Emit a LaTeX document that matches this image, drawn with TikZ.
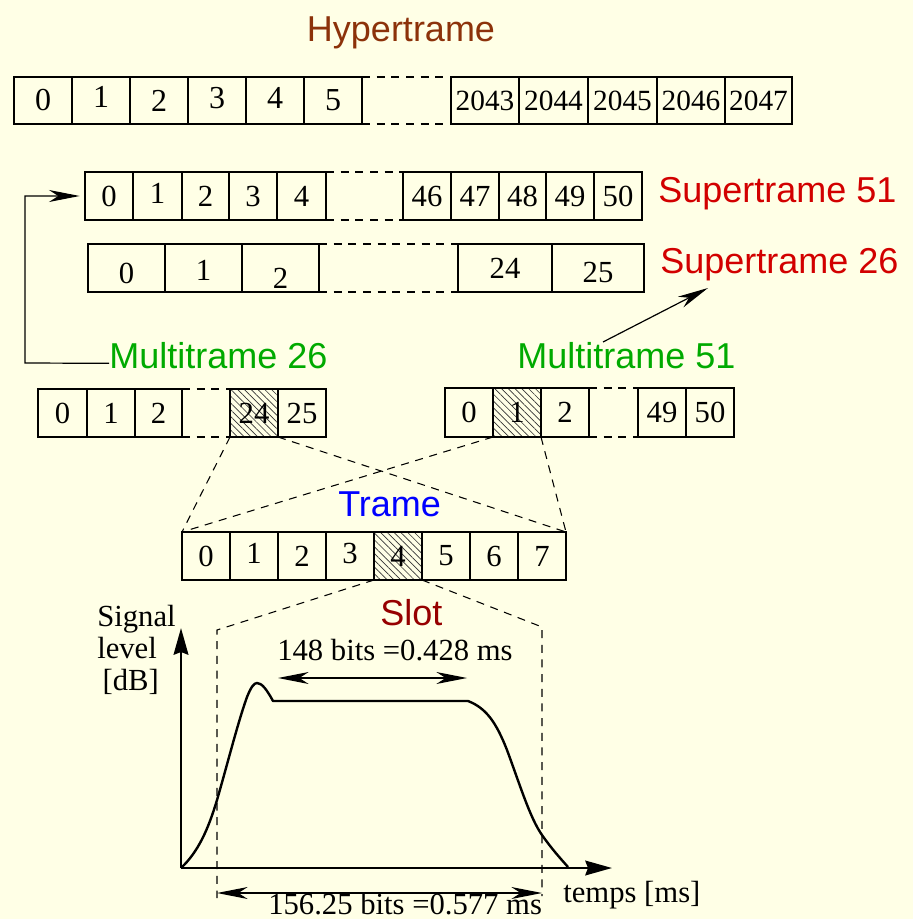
\documentclass[tikz,border=0pt]{standalone}
\usepackage{fontspec}
\setmainfont{Liberation Serif}
\newfontfamily\sfont{Liberation Sans}
\usetikzlibrary{arrows.meta,patterns.meta}
\definecolor{bgc}{RGB}{255,255,230}
\definecolor{hyperc}{RGB}{140,50,10}
\definecolor{superc}{RGB}{210,0,0}
\definecolor{multic}{RGB}{0,170,0}
\definecolor{tramec}{RGB}{0,0,255}
\definecolor{slotc}{RGB}{150,0,0}
\newcommand\fcell[7][]{\node[cellbox,#1,minimum width={(#4-#3)*0.75pt},minimum height={(#6-#5)*0.75pt}] (#2) at ({(#3+#4)/2},{(#5+#6)/2}) {#7};}
\newcommand\lowr[2]{\raisebox{-#1}[\height][0pt]{#2}}
\tikzset{
  cellbox/.style={draw, line width=0.9pt, inner sep=0pt, outer sep=0pt, font=\fontsize{23}{23}\selectfont},
  hatch/.style={pattern={Lines[angle=-45,distance=3.6pt,line width=0.5pt]}, pattern color=black!80},
  gapline/.style={line width=0.8pt, dash pattern=on 6pt off 5pt},
  ttl/.style={font=\sfont\fontsize{27}{27}\selectfont, inner sep=0pt, anchor=base west},
  lbl/.style={font=\fontsize{23}{24}\selectfont, inner sep=0pt, anchor=base west},
  arr/.style={line width=0.9pt, -{Stealth[length=23pt,width=9pt,inset=7pt]}},
  dimarr/.style={line width=0.9pt, {Stealth[length=23pt,width=9pt,inset=7pt]}-{Stealth[length=23pt,width=9pt,inset=7pt]}},
  axisarr/.style={line width=2pt, -{Stealth[length=20pt,width=11pt,inset=2pt]}},
  curve/.style={line width=1.8pt, line join=round}
}
\begin{document}
\begin{tikzpicture}[x=0.75pt,y=-0.75pt]
\fill[bgc] (0,0) rectangle (913,919);
\useasboundingbox (0,0) rectangle (913,919);

% Hypertrame
\node[ttl, anchor=base, text=hyperc] (hyp) at (401,42) {Hypertrame};
\fcell[font=\fontsize{24}{24}\selectfont]{h0}{14}{72}{77}{124}{0}
\fcell[font=\fontsize{24}{24}\selectfont]{h1}{72}{130}{77}{124}{\lowr{-3pt}{1}}
\fcell[font=\fontsize{24}{24}\selectfont]{h2}{130}{188}{77}{124}{2}
\fcell[font=\fontsize{24}{24}\selectfont]{h3}{188}{246}{77}{124}{\lowr{-2pt}{3}}
\fcell[font=\fontsize{24}{24}\selectfont]{h4}{246}{304}{77}{124}{\lowr{-2pt}{4}}
\fcell[font=\fontsize{24}{24}\selectfont]{h5}{304}{362}{77}{124}{5}
\fcell[font=\fontsize{22}{22}\selectfont]{h2043}{451}{519}{77}{124}{2043}
\fcell[font=\fontsize{22}{22}\selectfont]{h2044}{519}{588}{77}{124}{2044}
\fcell[font=\fontsize{22}{22}\selectfont]{h2045}{588}{657}{77}{124}{2045}
\fcell[font=\fontsize{22}{22}\selectfont]{h2046}{657}{725}{77}{124}{2046}
\fcell[font=\fontsize{22}{22}\selectfont]{h2047}{725}{792}{77}{124}{2047}
\draw[gapline] (h5.north east) -- (h2043.north west);
\draw[gapline] (h5.south east) -- (h2043.south west);

% Supertrame 51
\fcell{s0}{85}{133}{172}{220}{0}
\fcell{s1}{133}{182}{172}{220}{\lowr{-2pt}{1}}
\fcell{s2}{182}{229}{172}{220}{2}
\fcell{s3}{229}{277}{172}{220}{3}
\fcell{s4}{277}{326}{172}{220}{4}
\fcell{s46}{403}{451}{172}{220}{46}
\fcell{s47}{451}{499}{172}{220}{47}
\fcell{s48}{499}{546}{172}{220}{48}
\fcell{s49}{546}{594}{172}{220}{49}
\fcell{s50}{594}{642}{172}{220}{50}
\draw[gapline] (s4.north east) -- (s46.north west);
\draw[gapline] (s4.south east) -- (s46.south west);
\node[ttl, text=superc] (st51) at (658,203) {Supertrame 51};

% Supertrame 26
\fcell{u0}{88}{165}{244}{292}{\lowr{4pt}{0}}
\fcell{u1}{165}{242}{244}{292}{\lowr{2pt}{1}}
\fcell{u2}{242}{319}{244}{292}{\lowr{8pt}{2}}
\fcell{u24}{458}{552}{244}{292}{24}
\fcell{u25}{552}{644}{244}{292}{\lowr{3pt}{25}}
\draw[gapline] (u2.north east) -- (u24.north west);
\draw[gapline] (u2.south east) -- (u24.south west);
\node[ttl, text=superc] (st26) at (660,274) {Supertrame 26};

% Multitrame 26
\node[ttl, text=multic] (mt26) at (109,368) {Multitrame 26};
\fcell{m0}{38}{87}{389}{437}{0}
\fcell{m1}{87}{135}{389}{437}{1}
\fcell{m2}{135}{182}{389}{437}{2}
\fcell[hatch]{m24}{230}{278}{389}{437}{24}
\fcell{m25}{278}{326}{389}{437}{25}
\draw[gapline] (m2.north east) -- (m24.north west);
\draw[gapline] (m2.south east) -- (m24.south west);

% Multitrame 51
\node[ttl, text=multic] (mt51) at (517,368) {Multitrame 51};
\fcell{n0}{445}{493}{388}{437}{0}
\fcell[hatch]{n1}{493}{541}{388}{437}{1}
\fcell{n2}{541}{589}{388}{437}{2}
\fcell{n49}{638}{686}{388}{437}{49}
\fcell{n50}{686}{734}{388}{437}{50}
\draw[gapline] (n2.north east) -- (n49.north west);
\draw[gapline] (n2.south east) -- (n49.south west);

% arrows between levels
\coordinate (lcorner) at (25,363);
\draw[arr] ([yshift=3.5pt]mt26.base west) -- (lcorner) |- ([xshift=-4pt]s0.west);
\coordinate (a51) at (603,342);
\coordinate (a26) at (708,288);
\draw[arr] (a51) -- (a26);

% Trame
\node[ttl, text=tramec] (trame) at (338,516) {Trame};
\fcell{f0}{182}{230}{532}{580}{0}
\fcell{f1}{230}{278}{532}{580}{\lowr{-2pt}{1}}
\fcell{f2}{278}{326}{532}{580}{2}
\fcell{f3}{326}{374}{532}{580}{\lowr{-2pt}{3}}
\fcell[hatch]{f4}{374}{422}{532}{580}{4}
\fcell{f5}{422}{470}{532}{580}{5}
\fcell{f6}{470}{518}{532}{580}{6}
\fcell{f7}{518}{566}{532}{580}{7}

\draw[gapline] (m24.south west) -- (f0.north west);
\draw[gapline] (m24.south east) -- (f7.north east);
\draw[gapline] (n1.south west) -- (f0.north west);
\draw[gapline] (n1.south east) -- (f7.north east);

% Slot
\node[ttl, text=slotc] (slot) at (380,625) {Slot};
\coordinate (slotTL) at (217,630);
\coordinate (slotTR) at (542,627);
\coordinate (slotBL) at (217,898);
\coordinate (slotBR) at (542,896);
\draw[gapline] (f4.south west) -- (slotTL) -- (slotBL);
\draw[gapline] (f4.south east) -- (slotTR) -- (slotBR);

% axes
\coordinate (origin) at (181,868);
\coordinate (ytip) at (181,628);
\coordinate (xtip) at (612,868);
\draw[axisarr] (origin) -- (ytip);
\draw[axisarr] (origin) -- (xtip);
\node[lbl, align=left] (ylab) at (97,690) {Signal\\level\\\hspace*{4pt}[dB]};
\node[lbl] (xlab) at (563,902) {temps [ms]};

% signal curve
\draw[curve] (origin) .. controls (198,852) and (208,830) .. (217,800)
  .. controls (228,762) and (238,722) .. (247,697)
  .. controls (251,687) and (254,683) .. (257,683)
  .. controls (262,683) and (267,690) .. (273,701)
  -- (468,701)
  .. controls (486,708) and (496,722) .. (507,750)
  .. controls (520,785) and (530,818) .. (542,835)
  .. controls (551,848) and (560,858) .. (568,867);

% dimensions
\coordinate (d1L) at (278,678);
\coordinate (d1R) at (467,678);
\draw[dimarr] (d1L) -- (d1R);
\node[lbl] (d1lab) at (277,660) {148 bits =0.428 ms};
\coordinate (d2L) at (217,893);
\coordinate (d2R) at (542,893);
\draw[dimarr] (d2L) -- (d2R);
\node[lbl] (d2lab) at (268,914) {156.25 bits =0.577 ms};
\end{tikzpicture}
\end{document}
